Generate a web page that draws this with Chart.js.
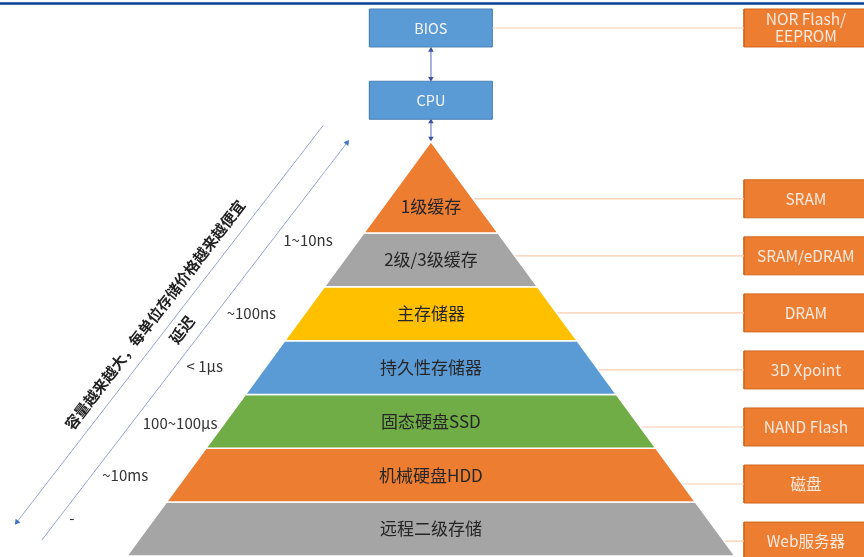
<!DOCTYPE html>
<html lang="zh-CN">
<head>
<meta charset="utf-8">
<title>存储层次结构</title>
<script src="https://cdn.jsdelivr.net/npm/chart.js@4.4.1/dist/chart.umd.min.js"></script>
<style>
  html, body { margin: 0; padding: 0; background: #fff; }
  #wrap { position: relative; width: 864px; height: 557px; }
</style>
</head>
<body>
<div id="wrap"><canvas id="pyramid"></canvas></div>
<script>
// ---- data ----
const layerNames = ["1级缓存", "2级/3级缓存", "主存储器", "持久性存储器", "固态硬盘SSD", "机械硬盘HDD", "远程二级存储"];
const techNames = ["SRAM", "SRAM/eDRAM", "DRAM", "3D Xpoint", "NAND Flash", "磁盘", "Web服务器"];
const latencies = ["1~10ns", "~100ns", "< 1µs", "100~100µs", "~10ms", "-"];
const topBoxes = ["BIOS", "CPU"];
const biosMemory = ["NOR Flash/", "EEPROM"];
const arrowCaptions = ["容量越来越大，每单位存储价格越来越便宜", "延迟"];

// ---- styles / layout (units: one pyramid layer = 1) ----
const LAYER_COLORS = ["#ed7d31", "#a5a5a5", "#ffc000", "#5b9bd5", "#70ad47", "#ed7d31", "#a5a5a5"];
const FONT = '"Noto Sans CJK SC", "Noto Sans", sans-serif';
const APEX = 7.7;          // top of the pyramid
const BASE_HALF = 5.65;    // half width of the base
const BOX_LEFT = 5.82, BOX_RIGHT = 8.3, BOX_HALF_H = 0.353;
const TECH_TOP = 6.636, TECH_STEP = 1.06;
const BIOS_Y = 9.81, CPU_Y = 8.467, TOP_BOX_HALF_W = 1.143;
const latencyAt = [5.87, 4.5, 3.53, 2.47, 1.49, 0.69];
const outerArrow = [{ x: -2.007, y: 7.993 }, { x: -7.695, y: 0.632 }];
const innerArrow = [{ x: -7.23, y: 0.297 }, { x: -1.561, y: 7.677 }];
const captionAt = [{ x: -5.13, y: 4.48 }, { x: -4.628, y: 4.2 }];

const half = (lvl) => (BASE_HALF * (APEX - lvl)) / APEX;
const layerBottom = (i) => 6 - i;
const layerTop = (i) => (i === 0 ? APEX : 7 - i);
const techY = (r) => TECH_TOP - TECH_STEP * r;

function rect(x0, x1, y0, y1, fill, stroke) {
  return {
    data: [{ x: x0, y: y0 }, { x: x1, y: y0 }, { x: x1, y: y1 }, { x: x0, y: y1 }, { x: x0, y: y0 }],
    backgroundColor: fill,
    borderColor: stroke,
    borderWidth: 1,
    fill: "shape",
    pointRadius: 0,
  };
}

function line(points, color, width, extra) {
  return Object.assign({ data: points, borderColor: color, borderWidth: width, fill: false, pointRadius: 0 }, extra || {});
}

const datasets = [];

// thin blue rule on top
datasets.push(line([{ x: -8.1, y: 10.265 }, { x: 8.1, y: 10.265 }], "#0b3f92", 2.5));

// pyramid layers
layerNames.forEach((name, i) => {
  const b = layerBottom(i), t = layerTop(i);
  datasets.push({
    label: name,
    data: [{ x: -half(b), y: b }, { x: half(b), y: b }, { x: half(t), y: t }, { x: -half(t), y: t }, { x: -half(b), y: b }],
    backgroundColor: LAYER_COLORS[i],
    borderColor: "#ffffff",
    borderWidth: 1.5,
    fill: "shape",
    pointRadius: 0,
  });
});

// technology boxes + connectors
techNames.forEach((name, r) => {
  const yc = techY(r);
  datasets.push(line([{ x: half(yc), y: yc }, { x: BOX_LEFT, y: yc }], "#f8cbad", 1.2));
  datasets.push(rect(BOX_LEFT, BOX_RIGHT, yc - BOX_HALF_H, yc + BOX_HALF_H, "#ed7d31", "#d0671f"));
});

// BIOS / CPU column
datasets.push(line([{ x: TOP_BOX_HALF_W, y: BIOS_Y }, { x: BOX_LEFT, y: BIOS_Y }], "#f8cbad", 1.2));
datasets.push(rect(BOX_LEFT, BOX_RIGHT, BIOS_Y - BOX_HALF_H, BIOS_Y + BOX_HALF_H, "#ed7d31", "#d0671f"));
[BIOS_Y, CPU_Y].forEach((yc) => {
  datasets.push(rect(-TOP_BOX_HALF_W, TOP_BOX_HALF_W, yc - BOX_HALF_H, yc + BOX_HALF_H, "#5b9bd5", "#4a80b5"));
});

// double arrows BIOS<->CPU<->pyramid
const dbl = { pointStyle: "triangle", pointRadius: 3.2, pointRotation: [0, 180], pointBackgroundColor: "#3f51a0", pointBorderWidth: 0 };
datasets.push(line([{ x: 0, y: 9.4 }, { x: 0, y: 8.87 }], "#9aa8d8", 1, dbl));
datasets.push(line([{ x: 0, y: 8.07 }, { x: 0, y: 7.76 }], "#9aa8d8", 1, dbl));

// diagonal arrows
datasets.push(line(outerArrow, "#94a6cf", 1, {
  pointStyle: "triangle", pointRadius: [0, 3.5], pointRotation: 217.7, pointBackgroundColor: "#4472c4", pointBorderWidth: 0,
}));
datasets.push(line(innerArrow, "#94a6cf", 1, {
  pointStyle: "triangle", pointRadius: [0, 3.5], pointRotation: 37.7, pointBackgroundColor: "#4472c4", pointBorderWidth: 0,
}));

// all texts, placed through the scales
const textPlugin = {
  id: "texts",
  afterDatasetsDraw(chart) {
    const { ctx, scales: { x, y } } = chart;
    const px = (v) => x.getPixelForValue(v);
    const py = (v) => y.getPixelForValue(v);
    ctx.save();
    ctx.textAlign = "center";
    ctx.textBaseline = "middle";

    ctx.font = "17px " + FONT;
    ctx.fillStyle = "#262626";
    layerNames.forEach((name, i) => ctx.fillText(name, px(0), py(layerBottom(i) + 0.5)));

    ctx.font = "15.5px " + FONT;
    ctx.fillStyle = "#fdeadf";
    techNames.forEach((name, r) => ctx.fillText(name, px(6.97), py(techY(r))));
    ctx.fillText(biosMemory[0], px(6.97), py(BIOS_Y + 0.17));
    ctx.fillText(biosMemory[1], px(6.97), py(BIOS_Y - 0.16));

    ctx.font = "14.5px " + FONT;
    ctx.fillStyle = "#f4f4f4";
    topBoxes.forEach((name, i) => ctx.fillText(name, px(0), py(i === 0 ? BIOS_Y : CPU_Y)));

    // latency labels sit just right of the inner arrow
    ctx.font = "15px " + FONT;
    ctx.fillStyle = "#333333";
    ctx.textAlign = "left";
    const a = innerArrow[0], b = innerArrow[1];
    latencies.forEach((txt, i) => {
      const lvl = latencyAt[i];
      const xl = a.x + ((lvl - a.y) * (b.x - a.x)) / (b.y - a.y);
      ctx.fillText(txt, px(xl) + 11, py(lvl));
    });

    // rotated captions along the arrows
    const ang = Math.atan2(py(b.y) - py(a.y), px(b.x) - px(a.x));
    ctx.textAlign = "center";
    ctx.fillStyle = "#222222";
    ctx.font = "bold 15px " + FONT;
    arrowCaptions.forEach((txt, i) => {
      ctx.save();
      ctx.translate(px(captionAt[i].x), py(captionAt[i].y));
      ctx.rotate(ang);
      ctx.fillText(txt, 0, 0);
      ctx.restore();
    });
    ctx.restore();
  },
};

new Chart(document.getElementById("pyramid").getContext("2d"), {
  type: "line",
  data: { datasets },
  options: {
    responsive: true,
    maintainAspectRatio: false,
    animation: false,
    events: [],
    layout: { padding: 0, autoPadding: false },
    elements: { line: { tension: 0 } },
    scales: {
      x: { type: "linear", min: -8.01, max: 8.05, display: false },
      y: { type: "linear", min: -0.02, max: 10.33, display: false },
    },
    plugins: { legend: { display: false }, tooltip: { enabled: false } },
  },
  plugins: [textPlugin],
});
</script>
</body>
</html>
